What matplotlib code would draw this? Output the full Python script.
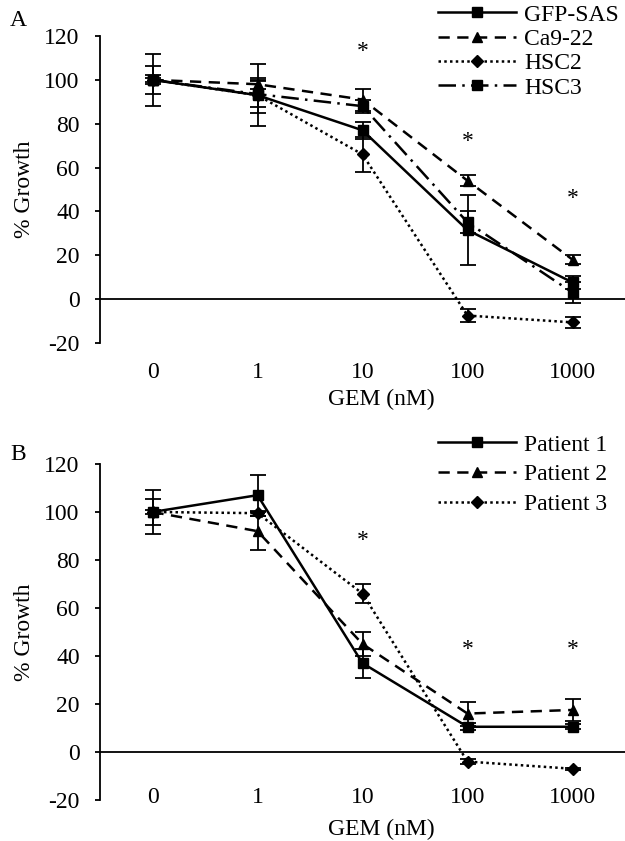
import numpy as np
import matplotlib
matplotlib.use("Agg")
import matplotlib.pyplot as plt

plt.rcParams['font.family'] = ['Liberation Serif', 'DejaVu Serif']
plt.rcParams['font.size'] = 17
plt.rcParams['axes.unicode_minus'] = False

# ---- data ----
conc = ['0', '1', '10', '100', '1000']

# panel A: cell lines
gfp_sas = [100, 93, 77, 31.5, 7.6]
gfp_sas_err = [12, 14, 4, 16, 3]
ca9_22 = [100, 98, 91, 54, 18]
ca9_22_err = [6.5, 2, 5, 2.5, 2]
hsc2 = [100, 93, 66, -7.5, -10.6]
hsc2_err = [2, 8, 8, 3, 2.5]
hsc3 = [100, 93.5, 88, 35, 3]
hsc3_err = [1, 6, 3, 5, 5]
star_a_idx = [2, 3, 4]
star_a_y = [113, 72, 46]

# panel B: patients
patient1 = [100, 107, 37, 10.5, 10.5]
patient1_err = [5.5, 8.5, 6, 1.5, 1]
patient2 = [100, 92, 45, 16, 17.5]
patient2_err = [9, 8, 5, 5, 4.5]
patient3 = [100, 99.5, 66, -4, -7]
patient3_err = [1, 1, 4, 1, 0.5]
star_b_idx = [2, 3, 4]
star_b_y = [88, 42.5, 42.5]

# line styles
SOLID = '-'
DASH = (0, (4.5, 3))
DOT = (0, (1, 1.3))
DASHDOT = (0, (7, 2.5, 1, 2.5))
LW = 1.8


def draw_series(ax, x, y, err, ls, marker, ms, label):
    ax.errorbar(x, y, yerr=err, fmt='none', ecolor='black', elinewidth=1.3,
                capsize=5.5, capthick=1.3, zorder=2)
    ax.plot(x, y, color='black', ls=ls, lw=LW, marker=marker, ms=ms,
            label=label, zorder=3)


def style_axes(ax, tick_pad, xlabel_y, ylabel_y):
    ax.set_xlim(-0.5, 4.5)
    ax.set_ylim(-20, 120)
    ax.set_yticks(np.arange(-20, 121, 20))
    ax.set_xticks(range(len(conc)), conc)
    ax.tick_params(axis='x', length=0, pad=tick_pad)
    ax.tick_params(axis='y', length=3.6, width=1.3, pad=11, direction='out')
    for s in ['top', 'right', 'bottom']:
        ax.spines[s].set_visible(False)
    ax.spines['left'].set_linewidth(1.3)
    ax.axhline(0, color='black', lw=1.3, zorder=1)
    ax.set_xlabel('GEM (nM)')
    ax.xaxis.set_label_coords(0.535, xlabel_y)
    ax.set_ylabel('% Growth')
    ax.yaxis.set_label_coords(-0.124, ylabel_y)


fig = plt.figure(figsize=(6.25, 8.41), dpi=100)
ax_a = fig.add_axes([0.16, 0.5922, 0.84, 0.365])
ax_b = fig.add_axes([0.16, 0.0488, 0.84, 0.3995])

x = np.arange(len(conc))

# ---- panel A ----
draw_series(ax_a, x, gfp_sas, gfp_sas_err, SOLID, 's', 7.5, 'GFP-SAS')
draw_series(ax_a, x, ca9_22, ca9_22_err, DASH, '^', 7.5, 'Ca9-22')
draw_series(ax_a, x, hsc2, hsc2_err, DOT, 'D', 6, 'HSC2')
draw_series(ax_a, x, hsc3, hsc3_err, DASHDOT, 's', 7.5, 'HSC3')
for i, yy in zip(star_a_idx, star_a_y):
    ax_a.text(x[i], yy, '*', ha='center', va='center', fontsize=17)
style_axes(ax_a, 14, -0.15, 0.5)
ax_a.legend(loc='upper left', bbox_to_anchor=(438 / 625, 1 - 4 / 841),
            bbox_transform=fig.transFigure, frameon=False, numpoints=1,
            handlelength=3.3, handletextpad=0.35, labelspacing=0.12,
            borderpad=0, borderaxespad=0)

# ---- panel B ----
draw_series(ax_b, x, patient1, patient1_err, SOLID, 's', 7.5, 'Patient 1')
draw_series(ax_b, x, patient2, patient2_err, DASH, '^', 7.5, 'Patient 2')
draw_series(ax_b, x, patient3, patient3_err, DOT, 'D', 6, 'Patient 3')
for i, yy in zip(star_b_idx, star_b_y):
    ax_b.text(x[i], yy, '*', ha='center', va='center', fontsize=17)
style_axes(ax_b, -9, -0.055, 0.5)
ax_b.legend(loc='upper left', bbox_to_anchor=(438 / 625, 1 - 434 / 841),
            bbox_transform=fig.transFigure, frameon=False, numpoints=1,
            handlelength=3.3, handletextpad=0.35, labelspacing=0.35,
            borderpad=0, borderaxespad=0)

fig.text(18 / 625, 1 - 20 / 841, 'A', ha='center', va='center', fontsize=17)
fig.text(18 / 625, 1 - 455 / 841, 'B', ha='center', va='center', fontsize=17)

fig.savefig('out.png', dpi=100)
